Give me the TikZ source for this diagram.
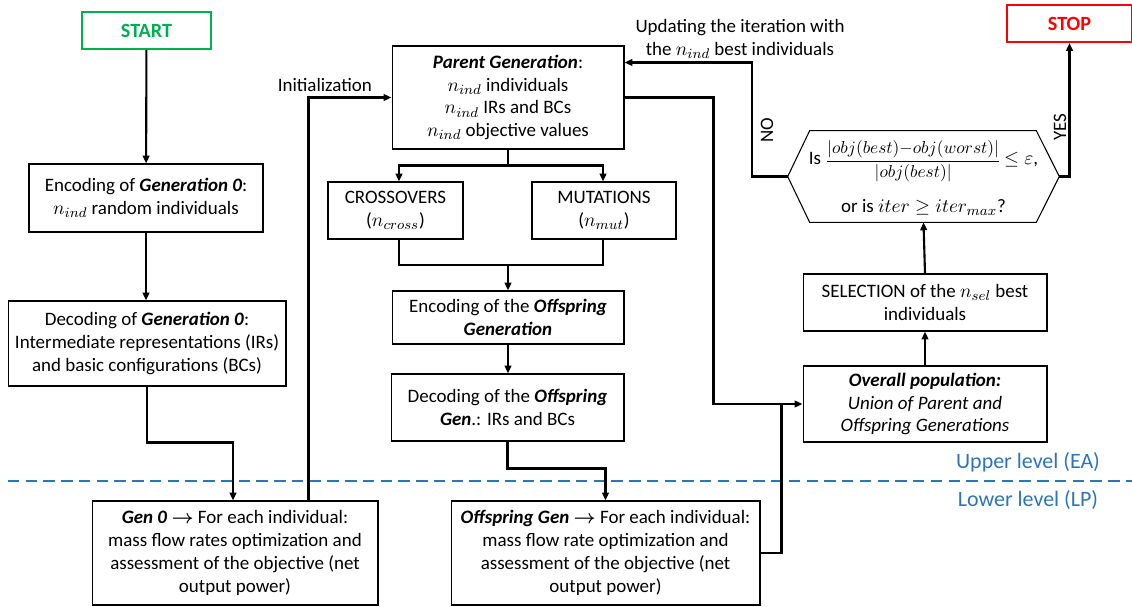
\documentclass[tikz,border=0pt]{standalone}
\usepackage{amsmath}
\usepackage{graphicx}
\usepackage{fontspec}
\setmainfont{Carlito}
\usetikzlibrary{arrows.meta,calc}
\definecolor{startgreen}{RGB}{0,176,80}
\definecolor{stopred}{RGB}{255,0,0}
\definecolor{levelblue}{RGB}{46,117,182}
\newcommand{\bi}[1]{\textbf{\textit{#1}}}
\begin{document}
\begin{tikzpicture}[x=0.02cm,y=-0.02cm,
    >={Triangle[length=4.5pt,width=3.8pt]},
    flowbox/.style={draw, line width=0.6pt, align=center, inner sep=1pt,
        font=\fontsize{10.8}{13}\selectfont},
    endbox/.style={draw, line width=1.1pt, minimum height=0.74cm,
        font=\fontsize{11.5}{13}\selectfont\bfseries},
    conn/.style={line width=1.2pt},
    levellabel/.style={text=levelblue, font=\fontsize{12.5}{13}\selectfont}]
    \useasboundingbox (0,0) rectangle (1132,606);
    % terminals
    \node[endbox, color=startgreen, minimum width=2.58cm] (start) at (146.5,30.5) {START};
    \node[endbox, color=stopred, minimum width=2.5cm] (stop) at (1069.5,23.5) {STOP};
    % generation 0 column
    \node[flowbox, minimum width=4.68cm, minimum height=1.36cm] (enc0) at (146,198)
        {Encoding of \bi{Generation 0}:\\ $n_{ind}$ random individuals};
    \node[flowbox, minimum width=5.56cm, minimum height=1.70cm] (dec0) at (147,343.5)
        {Decoding of \bi{Generation 0}:\\ Intermediate representations (IRs)\\ and basic configurations (BCs)};
    \node[flowbox, minimum width=5.72cm, minimum height=2.08cm] (lp0) at (235,553)
        {\bi{Gen 0} $\boldsymbol{\rightarrow}$ For each individual:\\ mass flow rates optimization and\\ assessment of the objective (net\\ output power)};
    % parent / offspring column
    \node[flowbox, minimum width=4.64cm, minimum height=2.06cm] (parent) at (508,97.5)
        {\bi{Parent Generation}:\\ $n_{ind}$ individuals\\ $n_{ind}$ IRs and BCs\\ $n_{ind}$ objective values};
    \node[flowbox, minimum width=2.70cm, minimum height=1.14cm] (cross) at (395.5,210.5)
        {CROSSOVERS\\ ($n_{cross}$)};
    \node[flowbox, minimum width=2.88cm, minimum height=1.14cm] (mut) at (604,210.5)
        {MUTATIONS\\ ($n_{mut}$)};
    \node[flowbox, minimum width=4.64cm, minimum height=1.06cm] (encoff) at (508,317.5)
        {Encoding of the \bi{Offspring}\\ \bi{Generation}};
    \node[flowbox, minimum width=4.66cm, minimum height=1.34cm] (decoff) at (507.5,407.5)
        {Decoding of the \bi{Offspring}\\ \bi{Gen}.: IRs and BCs};
    \node[flowbox, minimum width=6.18cm, minimum height=2.08cm] (lpoff) at (605.5,553)
        {\bi{Offspring Gen} $\boldsymbol{\rightarrow}$ For each individual:\\ mass flow rate optimization and\\ assessment of the objective (net\\ output power)};
    % selection column
    \node[flowbox, minimum width=4.88cm, minimum height=1.52cm] (overall) at (925,404)
        {\bi{Overall population:}\\ \textit{Union of Parent and}\\ \textit{Offspring Generations}};
    \node[flowbox, minimum width=4.88cm, minimum height=1.14cm] (sel) at (925,302.5)
        {SELECTION of the $n_{sel}$ best\\ individuals};
    \node[align=center, inner sep=0pt, minimum width=5.42cm, minimum height=1.82cm,
        font=\fontsize{10.8}{13}\selectfont] (test) at (923.5,178)
        {Is \raisebox{-0.1ex}{\scalebox{0.9}{$\dfrac{|obj(best){-}obj(worst)|}{|obj(best)|}$}}$\,\le\varepsilon$,\\[9pt]
         or is $iter \ge iter_{max}$?};
    \draw[line width=0.6pt] ($(test.west)+(0,-1.5)$) -- ($(test.north west)+(22,-1.5)$) -- ($(test.north east)+(-23,-1.5)$)
        -- ($(test.east)+(0,-1.5)$) -- ($(test.south east)+(-23,-1.5)$) -- ($(test.south west)+(22,-1.5)$) -- cycle;
    \coordinate (testL) at ($(test.west)+(0,-1.5)$);
    \coordinate (testR) at ($(test.east)+(0,-1.5)$);
    \coordinate (testB) at ($(test.south)+(0,-1.5)$);
    % level separator
    \draw[levelblue, line width=1.1pt, dash pattern=on 6.5pt off 3.6pt] (8,481) -- (1132,481);
    \node[levellabel] (upper) at (1028,462) {Upper level (EA)};
    \node[levellabel] (lower) at (1028,500) {Lower level (LP)};
    % connectors
    \draw[conn,->] (start) -- (enc0);
    \draw[conn,->] (enc0.south) -- (enc0.south |- dec0.north);
    \draw[conn,->] (dec0.south) -- ++(0,56) -| ($(lp0.north)+(-2,0)$);
    \draw[conn,->] ($(lp0.north east)+(-70,0)$) |- (parent.west);
    \node[font=\fontsize{10.8}{13}\selectfont, anchor=south east, inner sep=1pt] (init) at (374,94) {Initialization};
    \draw[conn] (parent.south) -- ++(0,16) coordinate (split);
    \draw[conn,->] (split) -| ($(cross.north)+(3.5,0)$);
    \draw[conn,->] (split) -| ($(mut.north)+(-1,0)$);
    \coordinate (merge) at (508,265);
    \draw[conn] ($(cross.south)+(3.5,0)$) |- (merge) -| ($(mut.south)+(-1,0)$);
    \draw[conn,->] (merge) -- (encoff.north);
    \draw[conn,->] (encoff.south) -- (encoff.south |- decoff.north);
    \draw[conn,->] (decoff.south) -- ++(0,27) -| (lpoff.north);
    \draw[conn,->] (parent.east) -- ++(89,0) |- (overall.west);
    \draw[conn] (lpoff.east) -| ($(overall.west)+(-21,0)$);
    \draw[conn,->] (overall.north) -- (sel.south);
    \draw[conn,->] (sel.north) -- (testB);
    \draw[conn,->] (testL) -- ++(-36,0) |- ($(parent.north east)+(0,17)$);
    \draw[conn,->] (testR) -| (stop.south);
    % loop labels
    \node[font=\fontsize{10.8}{13}\selectfont, align=center] (update) at (740,39)
        {Updating the iteration with\\ the $n_{ind}$ best individuals};
    \node[font=\fontsize{10.8}{13}\selectfont, rotate=90] (no) at (767,130) {NO};
    \node[font=\fontsize{10.8}{13}\selectfont, rotate=90] (yes) at (1060,127) {YES};
\end{tikzpicture}
\end{document}
